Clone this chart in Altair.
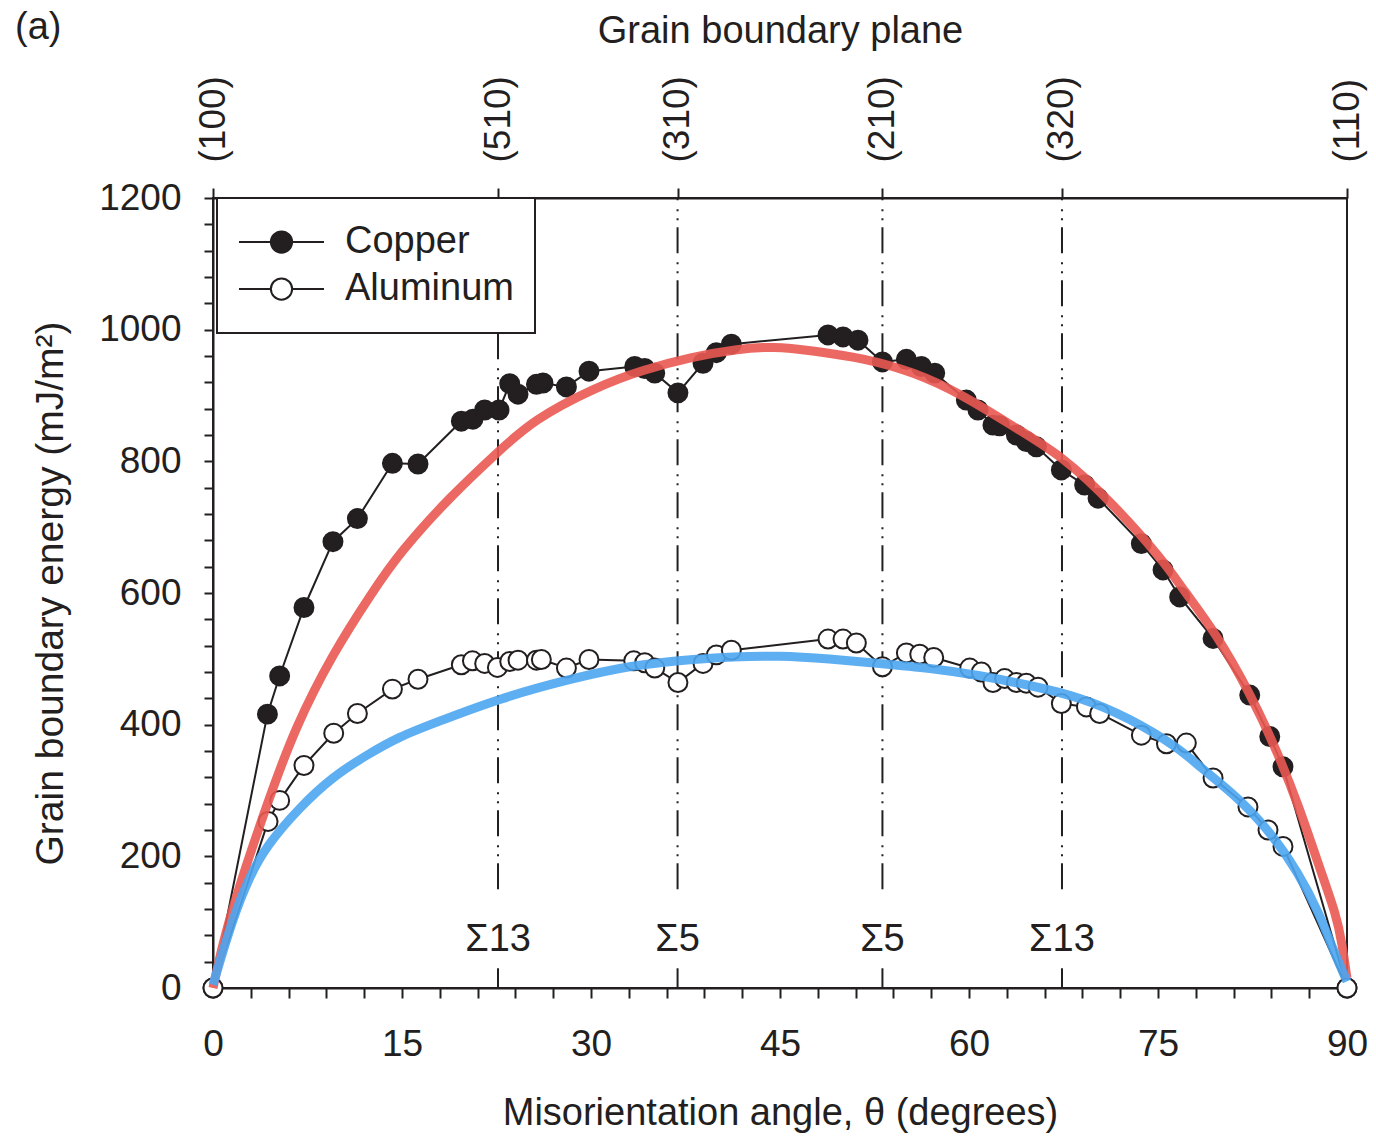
import altair as alt
import pandas as pd

# ---------------- data ----------------
cu_angle = [0, 4.32, 5.29, 7.22, 9.52, 11.46, 14.24, 16.27, 19.71, 20.63, 21.56, 22.70,
            23.55, 24.21, 25.67, 26.19, 28.05, 29.84, 33.47, 34.26, 35.06, 36.90, 38.89,
            39.95, 41.14, 48.81, 50.0, 51.19, 53.13, 55.03, 56.22, 57.28, 59.79, 60.71,
            61.90, 62.43, 63.76, 64.55, 65.35, 67.33, 69.18, 70.24, 73.68, 75.40, 76.72,
            79.37, 82.28, 83.87, 84.92, 90]
cu_energy = [0, 416, 474, 578, 678, 713, 797, 796, 861, 864, 878, 878,
             918, 902, 917, 919, 913, 937, 944, 941, 934, 904, 949,
             965, 978, 992, 989, 984, 951, 955, 944, 934, 893, 878,
             855, 854, 840, 830, 822, 787, 764, 744, 675, 635, 594,
             531, 445, 382, 336, 0]

al_angle = [0, 4.37, 5.29, 7.22, 9.58, 11.46, 14.24, 16.27, 19.71, 20.59, 21.56, 22.57,
            23.55, 24.21, 25.67, 26.06, 28.05, 29.84, 33.39, 34.26, 35.06, 36.90, 38.89,
            39.95, 41.14, 48.81, 50.0, 51.06, 53.13, 55.03, 56.09, 57.2, 60.06, 60.98,
            61.90, 62.83, 63.76, 64.55, 65.48, 67.33, 69.32, 70.37, 73.68, 75.67, 77.25,
            79.37, 82.14, 83.73, 84.92, 90]
al_energy = [0, 253, 285, 338, 387, 417, 454, 469, 491, 497, 493, 487,
             496, 498, 498, 499, 486, 499, 497, 494, 486, 464, 493,
             506, 513, 530, 530, 524, 488, 509, 507, 502, 486, 480,
             464, 470, 464, 463, 457, 432, 427, 417, 384, 371, 372,
             319, 275, 240, 215, 0]

cu_fit_angle = [0, 0.9, 2.6, 4.4, 6.5, 9.5, 12.6, 14.8, 18.8, 22.6, 25.4, 30.4, 34.1,
                38.1, 41.5, 44.5, 47.6, 51.6, 55.6, 59.5, 63.5, 67.5, 71.4, 75.4, 77.0,
                79.6, 82.3, 84.4, 86.2, 87.8, 89.2, 89.6, 90]
cu_fit_energy = [0, 80, 185, 285, 395, 508, 600, 661, 746, 814, 863, 913, 939,
                 959, 970, 975, 968, 957, 936, 901, 853, 807, 736, 650, 605,
                 539, 448, 362, 275, 184, 108, 68, 15]

al_fit_angle = [0, 1.6, 2.9, 4.2, 6.9, 9.5, 12.2, 14.8, 17.5, 22.75, 28.05, 33.3, 38.6,
                41.0, 45.0, 48.9, 52.9, 56.9, 60.85, 64.8, 68.8, 72.75, 76.7, 78.3,
                80.95, 83.6, 86.2, 87.8, 88.9, 90]
al_fit_energy = [5, 108, 169, 215, 275, 321, 354, 382, 402, 440, 468, 491, 500,
                 503, 505, 500, 493, 486, 475, 460, 442, 410, 364, 336,
                 296, 245, 174, 113, 58, 10]

plane_angle = [0, 22.62, 36.87, 53.13, 67.38, 90]
plane_label = ["(100)", "(510)", "(310)", "(210)", "(320)", "(110)"]
sigma_angle = [22.62, 36.87, 53.13, 67.38]
sigma_label = ["Σ13", "Σ5", "Σ5", "Σ13"]
x_ticks = list(range(0, 91, 3))
y_ticks = list(range(0, 1201, 40))

FONT = "Liberation Sans"
INK = "#231f20"
RED = "#EA5851"
BLUE = "#4DA5F1"

meas = pd.concat([
    pd.DataFrame({"angle": cu_angle, "energy": cu_energy, "series": "Copper"}),
    pd.DataFrame({"angle": al_angle, "energy": al_energy, "series": "Aluminum"}),
], ignore_index=True)
cu_fit = pd.DataFrame({"angle": cu_fit_angle, "energy": cu_fit_energy})
al_fit = pd.DataFrame({"angle": al_fit_angle, "energy": al_fit_energy})
sig_lines = pd.DataFrame({
    "angle": sigma_angle + sigma_angle,
    "y0": [150] * 4 + [0] * 4,
    "y1": [1200] * 4 + [30] * 4,
})
sig_text = pd.DataFrame({"angle": sigma_angle, "label": sigma_label, "y": [56] * 4})

xs = alt.Scale(domain=[0, 90], nice=False, zero=False)
ys = alt.Scale(domain=[0, 1200], nice=False)

plane_expr = "[" + ",".join(f"'{l}'" for l in plane_label) + "][indexof([" + \
    ",".join(str(a) for a in plane_angle) + "], datum.value)]"

top_axis = alt.Axis(orient="top", values=plane_angle, labelExpr=plane_expr,
                    labelAngle=270, labelAlign="left", labelBaseline="middle",
                    labelPadding=26, tickSize=10, labelFlush=False, labelOverlap=False,
                    title="Grain boundary plane", titleY=-156, titleBaseline="alphabetic",
                    grid=False)
bottom_axis = alt.Axis(orient="bottom", values=x_ticks,
                       labelExpr="datum.value % 15 === 0 ? datum.label : ''",
                       tickSize=10, labelPadding=28, labelOverlap=False, labelFlush=False,
                       title="Misorientation angle, θ (degrees)", titleY=136,
                       titleBaseline="alphabetic", grid=False)
left_axis = alt.Axis(orient="left", values=y_ticks, format="d",
                     labelExpr="datum.value % 200 === 0 ? datum.label : ''",
                     tickSize=9, labelPadding=23, labelOverlap=False, labelFlush=False,
                     title="Grain boundary energy (mJ/m²)", titleX=-151, titleY=395,
                     titleBaseline="alphabetic", titleAngle=270, titleFontSize=39,
                     grid=False)

legend_path = ("M-1,0H-0.25M0.25,0H1M0.25,0A0.25,0.25,0,1,1,-0.25,0"
               "A0.25,0.25,0,1,1,0.25,0Z")

rules = alt.Chart(sig_lines).mark_rule(color=INK, strokeWidth=2,
                                       strokeDash=[26, 7, 2, 7, 2, 9]).encode(
    x=alt.X("angle:Q", scale=xs, axis=top_axis),
    y=alt.Y("y0:Q", scale=ys, axis=None),
    y2="y1:Q",
)

sig_labels = alt.Chart(sig_text).mark_text(font=FONT, fontSize=38, color=INK,
                                           align="center", baseline="alphabetic").encode(
    x=alt.X("angle:Q", scale=xs, axis=None),
    y=alt.Y("y:Q", scale=ys, axis=None),
    text="label:N",
)

lines = alt.Chart(meas).mark_line(color=INK, strokeWidth=2).encode(
    x=alt.X("angle:Q", scale=xs, axis=None),
    y=alt.Y("energy:Q", scale=ys, axis=None),
    detail="series:N",
)

points = alt.Chart(meas).mark_point(shape="circle", filled=True, size=360,
                                    stroke=INK, strokeWidth=2, opacity=1).encode(
    x=alt.X("angle:Q", scale=xs, axis=bottom_axis),
    y=alt.Y("energy:Q", scale=ys, axis=left_axis),
    fill=alt.Fill("series:N",
                  scale=alt.Scale(domain=["Copper", "Aluminum"], range=[INK, "white"]),
                  legend=alt.Legend(title=None, orient="none", legendX=4, legendY=0,
                                    symbolType=legend_path, symbolSize=7225,
                                    symbolStrokeColor=INK, symbolStrokeWidth=2,
                                    labelFont=FONT, labelFontSize=38, labelColor=INK,
                                    labelLimit=400, labelOffset=20, padding=21,
                                    clipHeight=46, rowPadding=1,
                                    strokeColor=INK, fillColor="white")),
    order=alt.Order("order_key:Q"),
).transform_calculate(order_key="datum.series === 'Copper' ? 0 : 1")

cu_curve = alt.Chart(cu_fit).mark_line(color=RED, strokeWidth=9, opacity=0.9,
                                       interpolate="basis").encode(
    x=alt.X("angle:Q", scale=xs, axis=None),
    y=alt.Y("energy:Q", scale=ys, axis=None),
)
al_curve = alt.Chart(al_fit).mark_line(color=BLUE, strokeWidth=9, opacity=0.9,
                                       interpolate="basis").encode(
    x=alt.X("angle:Q", scale=xs, axis=None),
    y=alt.Y("energy:Q", scale=ys, axis=None),
)

panel = alt.Chart(pd.DataFrame({"t": ["(a)"]})).mark_text(
    font=FONT, fontSize=38, color=INK, align="left", baseline="alphabetic").encode(
    x=alt.value(-198), y=alt.value(-159), text="t:N")

chart = alt.layer(rules, sig_labels, lines, points, cu_curve, al_curve, panel).properties(
    width=1134, height=790,
    padding={"left": 213, "top": 198, "right": 29, "bottom": 149},
    autosize=alt.AutoSizeParams(type="none"),
).resolve_axis(x="independent", y="independent").configure_axis(
    labelFont=FONT, titleFont=FONT, labelFontSize=37, titleFontSize=38,
    labelColor=INK, titleColor=INK, domainColor=INK, tickColor=INK,
    domainWidth=2, tickWidth=2, titleFontWeight="normal",
).configure_view(stroke=INK, strokeWidth=2).configure_legend(strokeWidth=2)

chart.save("out.html", embed_options={"renderer": "svg", "actions": False})
